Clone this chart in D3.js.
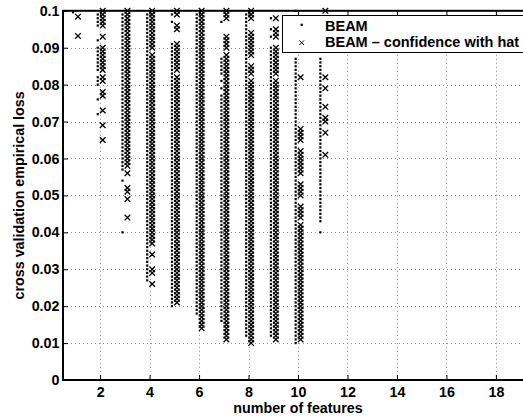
<!DOCTYPE html>
<html>
<head>
<meta charset="utf-8">
<script src="https://cdn.jsdelivr.net/npm/d3@7"></script>
<style>
  body { margin: 0; background: #fff; }
  svg { display: block; font-family: 'Liberation Sans', Arial, sans-serif; font-weight: bold; }
</style>
</head>
<body>
<div id="chart"></div>
<script>
// number of features per column
const features = [1, 2, 3, 4, 5, 6, 7, 8, 9, 10, 11];

// cross validation loss, in thousandths
const beamLoss = [
  [99.6],
  [99, 98, 97, 96, 92, 90, 89, 88, 87, 86, 85, 84, 82, 81, 80, 76, 72],
  [99, 98, 97, 96, 95, 94, 93, 92, 91, 90, 89, 88, 87, 86, 85, 84, 83, 82, 81, 80, 79, 78, 77, 76, 75, 74, 73, 72, 71, 70,
    69, 68, 67, 66, 65, 64, 63, 62, 61, 60, 59, 58, 57, 54, 40],
  [99, 98, 97, 96, 95, 94, 93, 92, 91, 90, 89, 88, 87, 86, 85, 84, 83, 82, 81, 80, 79, 78, 77, 76, 75, 74, 73, 72, 71, 70,
    69, 68, 67, 66, 65, 64, 63, 62, 61, 60, 59, 58, 57, 56, 55, 54, 53, 52, 51, 50, 49, 48, 47, 46, 45, 44, 43, 42, 41, 40,
    39, 38, 37, 36, 35, 34, 33, 32, 31, 30, 29, 28, 27],
  [100, 99, 97, 91, 90, 89, 88, 87, 86, 85, 84, 83, 82, 81, 80, 79, 78, 77, 76, 75, 74, 73, 72, 71, 70,
    69, 68, 67, 66, 65, 64, 63, 62, 61, 60, 59, 58, 57, 56, 55, 54, 53, 52, 51, 50, 49, 48, 47, 46, 45, 44, 43, 42, 41, 40,
    39, 38, 37, 36, 35, 34, 33, 32, 31, 30, 29, 28, 27, 26, 25, 24, 23, 22, 21, 20],
  [99, 98, 97, 96, 95, 94, 93, 92, 91, 90, 89, 88, 87, 86, 85, 84, 83, 82, 81, 80, 79, 78, 77, 76, 75, 74, 73, 72, 71, 70,
    69, 68, 67, 66, 65, 64, 63, 62, 61, 60, 59, 58, 57, 56, 55, 54, 53, 52, 51, 50, 49, 48, 47, 46, 45, 44, 43, 42, 41, 40,
    39, 38, 37, 36, 35, 34, 33, 32, 31, 30, 29, 28, 27, 26, 25, 24, 23, 22, 21, 20, 19, 18],
  [97, 87, 86, 85, 84, 83, 81, 79, 77, 76, 75, 74, 73, 72, 71, 70,
    69, 68, 67, 66, 65, 64, 63, 62, 61, 60, 59, 58, 57, 56, 55, 54, 53, 52, 51, 50, 49, 48, 47, 46, 45, 44, 43, 42, 41, 40,
    39, 38, 37, 36, 35, 34, 33, 32, 31, 30, 29, 28, 27, 26, 25, 24, 23, 22, 21, 20, 19, 18, 17, 16],
  [99, 98, 97, 96, 95, 94, 93, 92, 91, 90, 89, 88, 87, 86, 85, 84, 83, 82, 81, 80, 79, 78, 77, 76, 75, 74, 73, 72, 71, 70,
    69, 68, 67, 66, 65, 64, 63, 62, 61, 60, 59, 58, 57, 56, 55, 54, 53, 52, 51, 50, 49, 48, 47, 46, 45, 44, 43, 42, 41, 40,
    39, 38, 37, 36, 35, 34, 33, 32, 31, 30, 29, 28, 27, 26, 25, 24, 23, 22, 21, 20, 19, 18, 17, 16, 15, 14, 13, 12],
  [98, 95, 93, 90, 89, 88, 87, 86, 85, 84, 83, 82, 81, 80, 79, 78, 77, 76, 75, 74, 73, 72, 71, 70,
    69, 68, 67, 66, 65, 64, 63, 62, 61, 60, 59, 58, 57, 56, 55, 54, 53, 52, 51, 50, 49, 48, 47, 46, 45, 44, 43, 42, 41, 40,
    39, 38, 37, 36, 35, 34, 33, 32, 31, 30, 29, 28, 27, 26, 25, 24, 23, 22, 21, 20, 19, 18, 17, 16, 15, 14, 13, 12],
  [100, 87, 86, 85, 84, 83, 82, 81, 80, 79, 78, 77, 76, 75, 74, 73, 72, 71, 70,
    69, 68, 67, 66, 65, 64, 63, 62, 61, 60, 59, 58, 57, 56, 55, 54, 53, 52, 51, 50, 49, 48, 47, 46, 45, 44, 43, 42, 41, 40,
    39, 38, 37, 36, 35, 34, 33, 32, 31, 30, 29, 28, 27, 26, 25, 24, 23, 22, 21, 20, 19, 18, 17, 16, 15, 14, 13, 12, 11, 10],
  [87, 86, 85, 84, 83, 82, 81, 80, 79, 78, 77, 76, 75, 74, 73, 72, 71, 70,
    69, 68, 67, 66, 65, 64, 63, 62, 61, 60, 59, 58, 57, 56, 55, 54, 53, 52, 51, 50, 49, 48, 47, 46, 45, 44, 43, 40]
];

const hatLoss = [
  [98.4, 93.2],
  [100, 99, 98, 97, 96, 93, 90, 89, 88, 87, 86, 85, 84, 82, 81, 78, 77, 73, 69, 65],
  [100, 99, 98, 97, 96, 95, 94, 93, 92, 91, 90, 89, 88, 87, 86, 85, 84, 83, 82, 81, 80, 79, 78, 77, 76, 75, 74, 73, 72, 71, 70,
    69, 68, 67, 66, 65, 64, 63, 62, 61, 60, 59, 58, 56, 52, 51, 49, 44],
  [100, 99, 98, 97, 96, 95, 94, 93, 92, 91, 90, 88, 87, 86, 85, 84, 83, 82, 81, 80, 79, 78, 77, 76, 75, 74, 73, 72, 71, 70,
    69, 68, 67, 66, 65, 64, 63, 62, 61, 60, 59, 58, 57, 56, 55, 54, 53, 52, 51, 50, 49, 48, 47, 46, 45, 44, 43, 42, 41, 40,
    39, 38, 37, 34, 30, 29, 26],
  [100, 99, 96, 95, 91, 90, 89, 88, 87, 86, 85, 84, 82, 81, 80, 79, 78, 77, 76, 75, 74, 73, 72, 71, 70,
    69, 68, 67, 66, 65, 64, 63, 62, 61, 60, 59, 58, 57, 56, 55, 54, 53, 52, 51, 50, 49, 48, 47, 46, 45, 44, 43, 42, 41, 40,
    39, 38, 37, 36, 35, 34, 33, 32, 31, 30, 29, 28, 27, 26, 25, 24, 23, 22, 21],
  [100, 99, 98, 97, 96, 95, 94, 93, 92, 91, 90, 89, 88, 87, 86, 85, 84, 83, 82, 81, 80, 79, 78, 77, 76, 75, 74, 73, 72, 71, 70,
    69, 68, 67, 66, 65, 64, 63, 62, 61, 60, 59, 58, 57, 56, 55, 54, 53, 52, 51, 50, 49, 48, 47, 46, 45, 44, 43, 42, 41, 40,
    39, 38, 37, 36, 35, 34, 33, 32, 31, 30, 29, 28, 27, 26, 25, 24, 23, 22, 21, 20, 19, 18, 17, 16, 15, 14],
  [100, 99, 98, 93, 92, 91, 90, 88, 87, 86, 85, 84, 83, 82, 81, 80, 79, 78, 77, 76, 75, 74, 73, 72, 71, 70,
    69, 68, 67, 66, 65, 64, 63, 62, 61, 60, 59, 58, 57, 56, 55, 54, 53, 52, 51, 50, 49, 48, 47, 46, 45, 44, 43, 42, 41, 40,
    39, 38, 37, 36, 35, 34, 33, 32, 31, 30, 29, 28, 27, 26, 25, 24, 23, 22, 21, 20, 19, 18, 17, 16, 15, 14, 13, 12, 11],
  [100, 99, 98, 94, 93, 92, 91, 90, 89, 88, 85, 84, 83, 81, 80, 79, 78, 77, 76, 75, 74, 73, 72, 71, 70,
    69, 68, 67, 66, 65, 64, 63, 62, 61, 60, 59, 58, 57, 56, 55, 54, 53, 52, 51, 50, 49, 48, 47, 46, 45, 44, 43, 42, 41, 40,
    39, 38, 37, 36, 35, 34, 33, 32, 31, 30, 29, 28, 27, 26, 25, 24, 23, 22, 21, 20, 19, 18, 17, 16, 15, 14, 13, 12, 11, 10],
  [98, 95, 94, 93, 90, 89, 88, 87, 86, 85, 84, 83, 81, 80, 79, 78, 77, 76, 75, 74, 73, 72, 71, 70,
    69, 68, 67, 66, 65, 64, 63, 62, 61, 60, 59, 58, 57, 56, 55, 54, 53, 52, 51, 50, 49, 48, 47, 46, 45, 44, 43, 42, 41, 40,
    39, 38, 37, 36, 35, 34, 33, 32, 31, 30, 29, 28, 27, 26, 25, 24, 23, 22, 21, 20, 19, 18, 17, 16, 15, 14, 13, 12, 11],
  [82, 68, 67, 66, 65, 62, 61, 60, 59, 58, 57, 56, 53, 52, 51, 50, 47, 46, 45, 44, 42, 41, 40,
    39, 38, 37, 36, 35, 34, 33, 32, 31, 30, 29, 28, 27, 26, 25, 24, 23, 22, 21, 20, 19, 18, 17, 16, 15, 14, 13, 12, 11],
  [100, 82, 79, 74, 71, 70, 67, 61]
];

const xTicks = [2, 4, 6, 8, 10, 12, 14, 16, 18];
const yTicks = [0, 0.01, 0.02, 0.03, 0.04, 0.05, 0.06, 0.07, 0.08, 0.09, 0.1];
const yTickLabels = ['0', '0.01', '0.02', '0.03', '0.04', '0.05', '0.06', '0.07', '0.08', '0.09', '0.1'];
const legendLabels = ['BEAM', 'BEAM \u2013 confidence with hat'];

const W = 523, H = 416;
const plotLeft = 63, plotRight = 533, plotTop = 10.8, plotBottom = 380;

const x = d3.scaleLinear().domain([0.5, 19.5]).range([plotLeft, plotRight]);
const y = d3.scaleLinear().domain([0, 0.1]).range([plotBottom, plotTop]);

const svg = d3.select('#chart')
  .append('svg')
  .attr('xmlns', 'http://www.w3.org/2000/svg')
  .attr('width', W)
  .attr('height', H);

// dotted grid
const grid = svg.append('g')
  .attr('stroke', '#8c8c8c')
  .attr('stroke-width', 1)
  .attr('stroke-dasharray', '1,3');
grid.selectAll('line.gx')
  .data(xTicks)
  .join('line')
  .attr('class', 'gx')
  .attr('x1', d => Math.round(x(d)) + 0.5)
  .attr('x2', d => Math.round(x(d)) + 0.5)
  .attr('y1', plotTop)
  .attr('y2', plotBottom);
grid.selectAll('line.gy')
  .data(yTicks.slice(1, -1))
  .join('line')
  .attr('class', 'gy')
  .attr('x1', plotLeft)
  .attr('x2', plotRight)
  .attr('y1', d => Math.round(y(d)) + 0.5)
  .attr('y2', d => Math.round(y(d)) + 0.5);

// axes with inward ticks
svg.append('g')
  .attr('transform', `translate(0,${plotBottom})`)
  .call(d3.axisBottom(x).tickValues(xTicks).tickSize(-5).tickPadding(6.5));
svg.append('g')
  .attr('transform', `translate(${plotLeft},0)`)
  .call(d3.axisLeft(y).tickValues(yTicks).tickSize(-5).tickPadding(3.5)
    .tickFormat((d, i) => yTickLabels[i]));
svg.append('g')
  .attr('transform', `translate(0,${plotTop})`)
  .call(d3.axisTop(x).tickValues(xTicks).tickSize(-5).tickFormat(''));
svg.append('g')
  .attr('transform', `translate(${plotRight},0)`)
  .call(d3.axisRight(y).tickValues(yTicks).tickSize(-5).tickFormat(''));

svg.selectAll('.domain').remove();
svg.selectAll('.tick line').attr('stroke', '#000');
svg.selectAll('.tick text')
  .attr('fill', '#000')
  .attr('font-size', 14.3)
  .attr('font-family', "'Liberation Sans', Arial, sans-serif")
  .attr('font-weight', 'bold');

svg.append('rect')
  .attr('x', plotLeft)
  .attr('y', plotTop)
  .attr('width', plotRight - plotLeft)
  .attr('height', plotBottom - plotTop)
  .attr('fill', 'none')
  .attr('stroke', '#000')
  .attr('stroke-width', 2);

// points
function points(series, off) {
  return features.flatMap((f, i) => series[i].map(v => ({ f: f + off, loss: v / 1000 })));
}
const CROSS = 'M-2.8,-2.8L2.8,2.8M-2.8,2.8L2.8,-2.8';

svg.append('g')
  .selectAll('rect')
  .data(points(beamLoss, -0.095))
  .join('rect')
  .attr('x', d => x(d.f) - 1.1)
  .attr('y', d => y(d.loss) - 1.1)
  .attr('width', 2.2)
  .attr('height', 2.2)
  .attr('fill', '#000');

svg.append('g')
  .attr('fill', 'none')
  .attr('stroke', '#000')
  .attr('stroke-width', 1.3)
  .selectAll('path')
  .data(points(hatLoss, 0.105))
  .join('path')
  .attr('transform', d => `translate(${x(d.f)},${y(d.loss)})`)
  .attr('d', CROSS);

// legend
const legend = svg.append('g');
legend.append('rect')
  .attr('x', 282.5)
  .attr('y', 15.5)
  .attr('width', 260)
  .attr('height', 37)
  .attr('fill', '#fff')
  .attr('stroke', '#000')
  .attr('stroke-width', 1);
legend.append('rect')
  .attr('x', 300.6)
  .attr('y', 23.7)
  .attr('width', 2.2)
  .attr('height', 2.2)
  .attr('fill', '#000');
legend.append('path')
  .attr('transform', 'translate(301.7,42.7)')
  .attr('d', 'M-2.3,-2.3L2.3,2.3M-2.3,2.3L2.3,-2.3')
  .attr('fill', 'none')
  .attr('stroke', '#000');
legend.selectAll('text')
  .data(legendLabels)
  .join('text')
  .attr('x', 325)
  .attr('y', (d, i) => 30.5 + i * 16.2)
  .attr('font-size', 14.5)
  .attr('fill', '#000')
  .text(d => d);

// axis labels
svg.append('text')
  .attr('x', (plotLeft + plotRight) / 2)
  .attr('y', 413)
  .attr('text-anchor', 'middle')
  .attr('font-size', 14.3)
  .text('number of features');
svg.append('text')
  .attr('transform', `translate(23.5,${(plotTop + plotBottom) / 2}) rotate(-90)`)
  .attr('text-anchor', 'middle')
  .attr('font-size', 14.3)
  .text('cross validation empirical loss');
</script>
</body>
</html>
